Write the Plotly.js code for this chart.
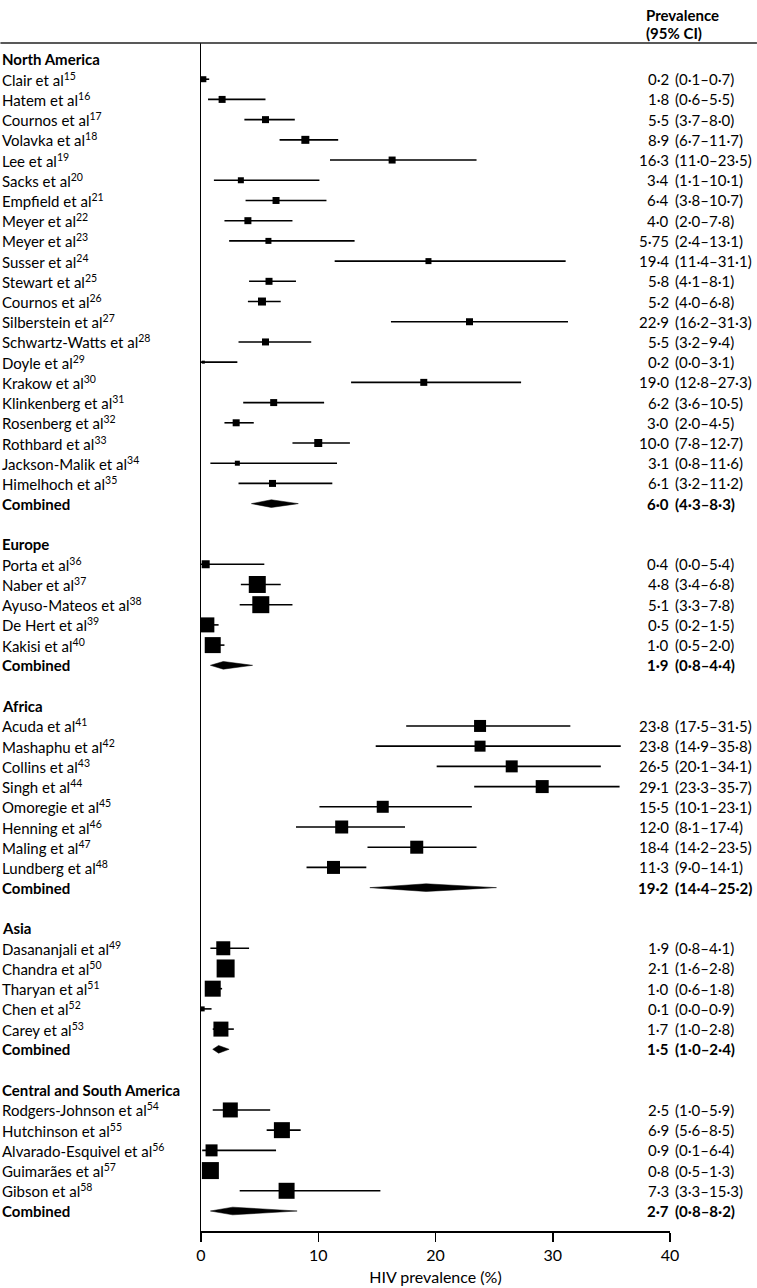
<!DOCTYPE html>
<html>
<head>
<meta charset="utf-8">
<script src="https://cdn.plot.ly/plotly-3.0.1.min.js"></script>
<style>html,body{margin:0;padding:0;background:#fff;}#chart{width:757px;height:1288px;}</style>
</head>
<body>
<div id="chart"></div>
<script>
// ---------------- DATA ----------------
const regions = ["North America", "Europe", "Africa", "Asia", "Central and South America"];

const naNames = ["Clair", "Hatem", "Cournos", "Volavka", "Lee", "Sacks", "Empfield", "Meyer", "Meyer", "Susser", "Stewart", "Cournos", "Silberstein", "Schwartz-Watts", "Doyle", "Krakow", "Klinkenberg", "Rosenberg", "Rothbard", "Jackson-Malik", "Himelhoch"];
const naRefs = [15, 16, 17, 18, 19, 20, 21, 22, 23, 24, 25, 26, 27, 28, 29, 30, 31, 32, 33, 34, 35];
const naEst = [0.2, 1.8, 5.5, 8.9, 16.3, 3.4, 6.4, 4.0, 5.75, 19.4, 5.8, 5.2, 22.9, 5.5, 0.2, 19.0, 6.2, 3.0, 10.0, 3.1, 6.1];
const naLo  = [0.1, 0.6, 3.7, 6.7, 11.0, 1.1, 3.8, 2.0, 2.4, 11.4, 4.1, 4.0, 16.2, 3.2, 0.0, 12.8, 3.6, 2.0, 7.8, 0.8, 3.2];
const naHi  = [0.7, 5.5, 8.0, 11.7, 23.5, 10.1, 10.7, 7.8, 13.1, 31.1, 8.1, 6.8, 31.3, 9.4, 3.1, 27.3, 10.5, 4.5, 12.7, 11.6, 11.2];
const naCombined = [6.0, 4.3, 8.3];

const euNames = ["Porta", "Naber", "Ayuso-Mateos", "De Hert", "Kakisi"];
const euRefs = [36, 37, 38, 39, 40];
const euEst = [0.4, 4.8, 5.1, 0.5, 1.0];
const euLo  = [0.0, 3.4, 3.3, 0.2, 0.5];
const euHi  = [5.4, 6.8, 7.8, 1.5, 2.0];
const euCombined = [1.9, 0.8, 4.4];

const afNames = ["Acuda", "Mashaphu", "Collins", "Singh", "Omoregie", "Henning", "Maling", "Lundberg"];
const afRefs = [41, 42, 43, 44, 45, 46, 47, 48];
const afEst = [23.8, 23.8, 26.5, 29.1, 15.5, 12.0, 18.4, 11.3];
const afLo  = [17.5, 14.9, 20.1, 23.3, 10.1, 8.1, 14.2, 9.0];
const afHi  = [31.5, 35.8, 34.1, 35.7, 23.1, 17.4, 23.5, 14.1];
const afCombined = [19.2, 14.4, 25.2];

const asNames = ["Dasananjali", "Chandra", "Tharyan", "Chen", "Carey"];
const asRefs = [49, 50, 51, 52, 53];
const asEst = [1.9, 2.1, 1.0, 0.1, 1.7];
const asLo  = [0.8, 1.6, 0.6, 0.0, 1.0];
const asHi  = [4.1, 2.8, 1.8, 0.9, 2.8];
const asCombined = [1.5, 1.0, 2.4];

const csNames = ["Rodgers-Johnson", "Hutchinson", "Alvarado-Esquivel", "Guimarães", "Gibson"];
const csRefs = [54, 55, 56, 57, 58];
const csEst = [2.5, 6.9, 0.9, 0.8, 7.3];
const csLo  = [1.0, 5.6, 0.1, 0.5, 3.3];
const csHi  = [5.9, 8.5, 6.4, 1.3, 15.3];
const csCombined = [2.7, 0.8, 8.2];

const xTicks = [0, 10, 20, 30, 40];
const xTitle = "HIV prevalence (%)";
const colHeader = ["Prevalence", "(95% CI)"];
const combinedLabel = "Combined";

// ---------------- STYLE (box sizes in px, reflecting study weight) ----------------
const naBox = [6, 7, 7, 8, 7, 6, 7, 7, 6, 6, 7, 8, 7, 7, 3, 7, 7, 7, 8, 5, 7];
const euBox = [8, 17, 17, 15, 16];
const afBox = [12, 11, 12, 13, 12, 13, 13, 13];
const asBox = [14, 18, 16, 5, 15];
const csBox = [15, 16, 12, 17, 16];

const W_PX = 757, H_PX = 1288;
const L = 200.7, R = 87, T = 43, B = 57;
const PW = W_PX - L - R, PH = H_PX - T - B;
const FONT = "Lato, 'Open Sans', sans-serif";
const FS = 15;
const INK = "#000000";
const DIAM_H = 0.19;

const groups = [
  {name: regions[0], names: naNames, refs: naRefs, est: naEst, lo: naLo, hi: naHi, comb: naCombined, box: naBox},
  {name: regions[1], names: euNames, refs: euRefs, est: euEst, lo: euLo, hi: euHi, comb: euCombined, box: euBox},
  {name: regions[2], names: afNames, refs: afRefs, est: afEst, lo: afLo, hi: afHi, comb: afCombined, box: afBox},
  {name: regions[3], names: asNames, refs: asRefs, est: asEst, lo: asLo, hi: asHi, comb: asCombined, box: asBox},
  {name: regions[4], names: csNames, refs: csRefs, est: csEst, lo: csLo, hi: csHi, comb: csCombined, box: csBox}
];

function fmt(v) {
  let s = String(v);
  if (s.indexOf('.') < 0) s += '.0';
  return s.replace('.', '\u00B7');
}
function pxX(px) { return (px - L) / PW; }
function pxY(py) { return 1 - (py - T) / PH; }

const ciX = [], ciY = [], sqX = [], sqY = [], sqS = [];
const annotations = [];
const traces = [];
let row = 0;

function addValue(r, est, lo, hi, bold) {
  const b0 = bold ? '<b>' : '', b1 = bold ? '</b>' : '';
  annotations.push({xref: 'paper', yref: 'y', x: pxX(670), y: r, xanchor: 'right', yanchor: 'middle',
    text: b0 + fmt(est) + b1, showarrow: false, font: {family: FONT, size: FS, color: INK}, borderpad: 0});
  annotations.push({xref: 'paper', yref: 'y', x: pxX(674), y: r, xanchor: 'left', yanchor: 'middle',
    text: b0 + '(' + fmt(lo) + '\u2013' + fmt(hi) + ')' + b1, showarrow: false, font: {family: FONT, size: FS, color: INK}, borderpad: 0});
}
function addLabel(r, text) {
  annotations.push({xref: 'paper', yref: 'y', x: pxX(1), y: r, xanchor: 'left', yanchor: 'middle',
    text: text, showarrow: false, font: {family: FONT, size: FS, color: INK}, borderpad: 0});
}

groups.forEach((g, gi) => {
  addLabel(row, '<b>' + g.name + '</b>');
  row++;
  g.names.forEach((n, i) => {
    addLabel(row, n + ' et al<sup>' + g.refs[i] + '</sup>');
    ciX.push(g.lo[i], g.hi[i], null);
    ciY.push(row, row, null);
    sqX.push(g.est[i]); sqY.push(row); sqS.push(g.box[i]);
    addValue(row, g.est[i], g.lo[i], g.hi[i], false);
    row++;
  });
  addLabel(row, '<b>' + combinedLabel + '</b>');
  const c = g.comb;
  traces.push({type: 'scatter', mode: 'lines', x: [c[1], c[0], c[2], c[0], c[1]], y: [row, row - DIAM_H, row, row + DIAM_H, row],
    fill: 'toself', fillcolor: INK, line: {color: INK, width: 0.5}, hoverinfo: 'skip', showlegend: false});
  addValue(row, c[0], c[1], c[2], true);
  row++;
  if (gi < groups.length - 1) row++;
});
const lastRow = row - 1;

traces.unshift({type: 'scatter', mode: 'lines', x: ciX, y: ciY, connectgaps: false,
  line: {color: INK, width: 1.6}, hoverinfo: 'skip', showlegend: false});
traces.push({type: 'scatter', mode: 'markers', x: sqX, y: sqY,
  marker: {symbol: 'square', size: sqS, color: INK, opacity: 1, line: {width: 0}}, hoverinfo: 'skip', showlegend: false});

annotations.push({xref: 'paper', yref: 'paper', x: pxX(645), y: pxY(15), xanchor: 'left', yanchor: 'middle',
  text: '<b>' + colHeader[0] + '</b>', showarrow: false, font: {family: FONT, size: FS, color: INK}, borderpad: 0});
annotations.push({xref: 'paper', yref: 'paper', x: pxX(645), y: pxY(33), xanchor: 'left', yanchor: 'middle',
  text: '<b>' + colHeader[1] + '</b>', showarrow: false, font: {family: FONT, size: FS, color: INK}, borderpad: 0});

const rowPx = 20.21;
const yTop = -(59 - T) / rowPx;
const yBot = lastRow + (1231 - 1211) / rowPx;

const layout = {
  width: W_PX, height: H_PX,
  margin: {l: L, r: R, t: T, b: B, pad: 0},
  paper_bgcolor: '#fff', plot_bgcolor: '#fff',
  showlegend: false,
  font: {family: FONT, size: FS, color: INK},
  xaxis: {range: [0, 40], tickvals: xTicks, ticktext: xTicks.map(String), ticks: 'outside', ticklen: 9, tickwidth: 1.5,
    tickcolor: INK, showline: true, linecolor: INK, linewidth: 1.5, showgrid: false, zeroline: false,
    tickfont: {family: FONT, size: 16, color: INK},
    title: {text: xTitle, font: {family: FONT, size: 16, color: INK}, standoff: 9}, fixedrange: true},
  yaxis: {range: [yBot, yTop], showline: true, linecolor: INK, linewidth: 1.5, showgrid: false, zeroline: false,
    showticklabels: false, ticks: '', fixedrange: true},
  shapes: [{type: 'line', xref: 'paper', yref: 'paper', x0: pxX(0), x1: pxX(757), y0: 1, y1: 1,
    line: {color: '#222', width: 1.5}}],
  annotations: annotations
};

Plotly.newPlot('chart', traces, layout, {staticPlot: true, displayModeBar: false});
</script>
</body>
</html>
